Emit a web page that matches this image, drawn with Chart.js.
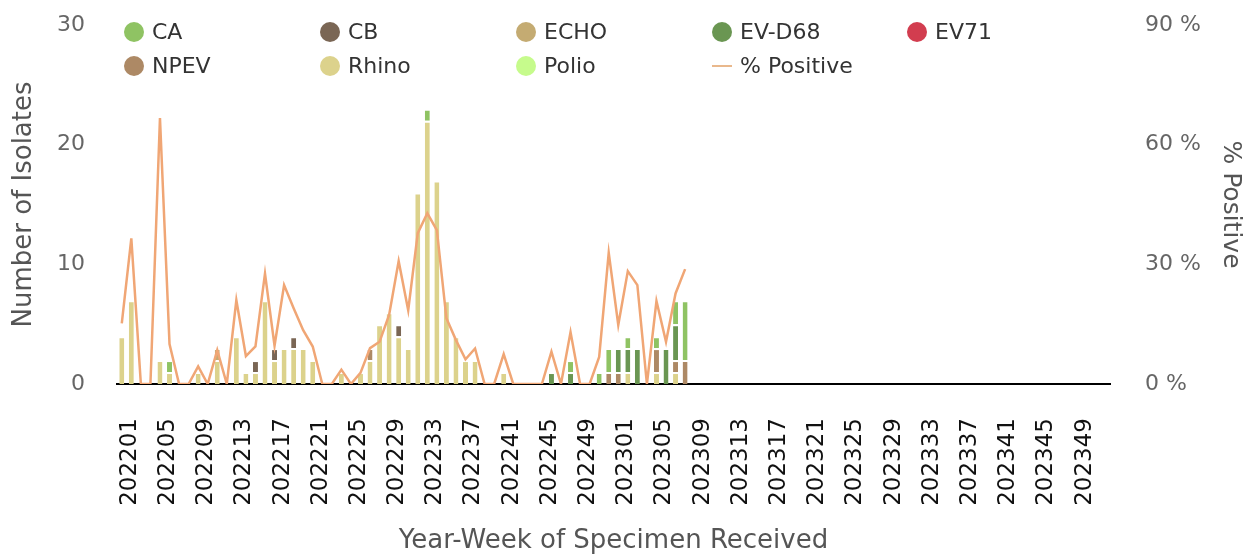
<!DOCTYPE html>
<html>
<head>
<meta charset="utf-8">
<script src="https://cdn.jsdelivr.net/npm/chart.js@4.4.1/dist/chart.umd.min.js"></script>
<style>
  body { margin: 0; background: #fff; }
  #wrap { position: relative; width: 1245px; height: 554px; }
  #wrap canvas { position: absolute; left: 0; top: 0; }
  .leg { position: absolute; font: 22px "DejaVu Sans", sans-serif; color: #333; white-space: nowrap; line-height: 24px; height: 24px; }
  .leg i { position: absolute; left: -28px; top: 2px; width: 20px; height: 20px; border-radius: 50%; }
  .leg b { position: absolute; left: -28px; top: 11px; width: 20px; height: 2px; }
</style>
</head>
<body>
<div id="wrap">
  <canvas id="chart" width="1245" height="554"></canvas>
</div>
<script>
// weeks 2022-01 .. 2023-52
const years = [2022, 2023];
const weeksPerYear = 52;
const weekLabels = [];
years.forEach(y => {
  for (let w = 1; w <= weeksPerYear; w++) weekLabels.push(y + String(w).padStart(2, '0'));
});

// isolates per week (first 60 weeks have data)
const rhino = [4,7,0,0,2,1,0,0,1,0, 2,0,4,1,1,7,2,3,3,3, 2,0,0,1,0,1,2,5,6,4,
               3,16,22,17,7,4,2,2,0,0, 1,0,0,0,0,0,0,0,0,0, 0,0,0,1,0,0,1,0,1,0];
const npev  = [0,0,0,0,0,0,0,0,0,0, 0,0,0,0,0,0,0,0,0,0, 0,0,0,0,0,0,1,0,0,0,
               0,0,0,0,0,0,0,0,0,0, 0,0,0,0,0,0,0,0,0,0, 0,1,1,0,0,0,2,0,1,2];
const ev71  = [];
const evd68 = [0,0,0,0,0,0,0,0,0,0, 0,0,0,0,0,0,0,0,0,0, 0,0,0,0,0,0,0,0,0,0,
               0,0,0,0,0,0,0,0,0,0, 0,0,0,0,0,1,0,1,0,0, 0,0,2,2,3,0,0,3,3,0];
const echo  = [0,0,0,0,0,0,0,0,0,0, 1,0,0,0,0,0,0,0,0,0];
const cb    = [0,0,0,0,0,0,0,0,0,0, 0,0,0,0,1,0,1,0,1,0, 0,0,0,0,0,0,0,0,0,1];
const ca    = [0,0,0,0,0,1,0,0,0,0, 0,0,0,0,0,0,0,0,0,0, 0,0,0,0,0,0,0,0,0,0,
               0,0,1,0,0,0,0,0,0,0, 0,0,0,0,0,0,0,1,0,0, 1,2,0,1,0,0,1,0,2,5];
const polio = [];

// % positive
const pctPositive = [15.2,36.5,0,0,66.7,10,0,0,4.4,0, 8.5,0,21,7,9.4,27.7,9.6,24.8,19,13.5,
                     9.4,0,0,3.6,0,2.8,9,10.6,17.3,30.8, 18.5,37.8,42.8,38.6,16.5,11,6.2,8.9,0,0,
                     7.5,0,0,0,0,8.1,0,13,0,0, 6.8,32.9,14.8,28.3,24.8,0,20.8,10.6,22.7,28.8];

const leftTicks = [0, 10, 20, 30];
const rightTicks = [0, 30, 60, 90];

const colors = {
  CA: '#8fc363', CB: '#7a6654', ECHO: '#c4ab72', 'EV-D68': '#6a9652', EV71: '#d23d4f',
  NPEV: '#ad8965', Rhino: '#dcd28c', Polio: '#c6fb8c', line: '#f0a675'
};

// stacked bottom -> top
const stackOrder = [
  ['Rhino', rhino], ['NPEV', npev], ['EV71', ev71], ['EV-D68', evd68],
  ['ECHO', echo], ['CB', cb], ['CA', ca], ['Polio', polio]
];

const datasets = stackOrder.map(([name, vals]) => ({
  type: 'bar',
  label: name,
  data: vals,
  backgroundColor: colors[name],
  borderColor: '#ffffff',
  borderWidth: { top: 2, left: 0, right: 0, bottom: 0 },
  borderSkipped: false,
  barPercentage: 0.52,
  categoryPercentage: 1,
  yAxisID: 'y',
  stack: 'iso',
  order: 1
}));

datasets.push({
  type: 'line',
  label: '% Positive',
  data: pctPositive,
  borderColor: colors.line,
  borderWidth: 2.5,
  pointRadius: 0,
  tension: 0,
  yAxisID: 'y1',
  order: 0
});

const font = 'DejaVu Sans';

new Chart(document.getElementById('chart'), {
  data: { labels: weekLabels, datasets: datasets },
  options: {
    responsive: false,
    animation: false,
    layout: { padding: { top: 25, left: 0, right: 0, bottom: 0 } },
    plugins: { legend: { display: false }, tooltip: { enabled: false } },
    scales: {
      x: {
        stacked: true,
        grid: { display: false, drawTicks: false },
        border: { display: true, color: '#000', width: 2 },
        ticks: {
          autoSkip: false,
          minRotation: 90,
          maxRotation: 90,
          padding: 34,
          labelOffset: 8,
          color: '#111',
          font: { family: font, size: 23 },
          callback: function (v, i) { return i % 4 === 0 ? weekLabels[i] : ''; }
        },
        title: {
          display: true,
          text: 'Year-Week of Specimen Received',
          color: '#555',
          font: { family: font, size: 26, lineHeight: 1 },
          padding: { top: 0, bottom: 0 }
        },
        afterFit: s => { s.height = 170; }
      },
      y: {
        stacked: true,
        position: 'left',
        min: 0,
        max: 30,
        // tick marks hidden, tickLength only spaces the labels
        grid: { display: false, drawTicks: true, tickLength: 32 },
        border: { display: false },
        afterBuildTicks: s => { s.ticks = leftTicks.map(v => ({ value: v })); },
        ticks: { padding: 0, color: '#666', font: { family: font, size: 22 } },
        title: {
          display: true,
          text: 'Number of Isolates',
          color: '#555',
          font: { family: font, size: 26, lineHeight: 1 },
          padding: { top: 11, bottom: 0 }
        },
        afterFit: s => { s.width = 117; }
      },
      y1: {
        position: 'right',
        min: 0,
        max: 90,
        grid: { display: false, drawTicks: true, tickLength: 35 },
        border: { display: false },
        afterBuildTicks: s => { s.ticks = rightTicks.map(v => ({ value: v })); },
        ticks: {
          padding: 0, color: '#666', font: { family: font, size: 22 },
          callback: v => v + ' %'
        },
        title: {
          display: true,
          text: '% Positive',
          color: '#555',
          font: { family: font, size: 25, lineHeight: 1 },
          padding: { top: 2, bottom: 0 }
        },
        afterFit: s => { s.width = 135; }
      }
    }
  }
});

// legend laid out in columns like the reference
const legendItems = [
  ['CA', 152, 20], ['CB', 348, 20], ['ECHO', 544, 20], ['EV-D68', 740, 20], ['EV71', 935, 20],
  ['NPEV', 152, 54], ['Rhino', 348, 54], ['Polio', 544, 54], ['% Positive', 740, 54]
];
const wrap = document.getElementById('wrap');
legendItems.forEach(([name, x, y]) => {
  const d = document.createElement('div');
  d.className = 'leg';
  d.style.left = x + 'px';
  d.style.top = y + 'px';
  const mark = document.createElement(name === '% Positive' ? 'b' : 'i');
  mark.style.background = name === '% Positive' ? '#e9b88c' : colors[name];
  d.appendChild(mark);
  d.appendChild(document.createTextNode(name));
  wrap.appendChild(d);
});
</script>
</body>
</html>
